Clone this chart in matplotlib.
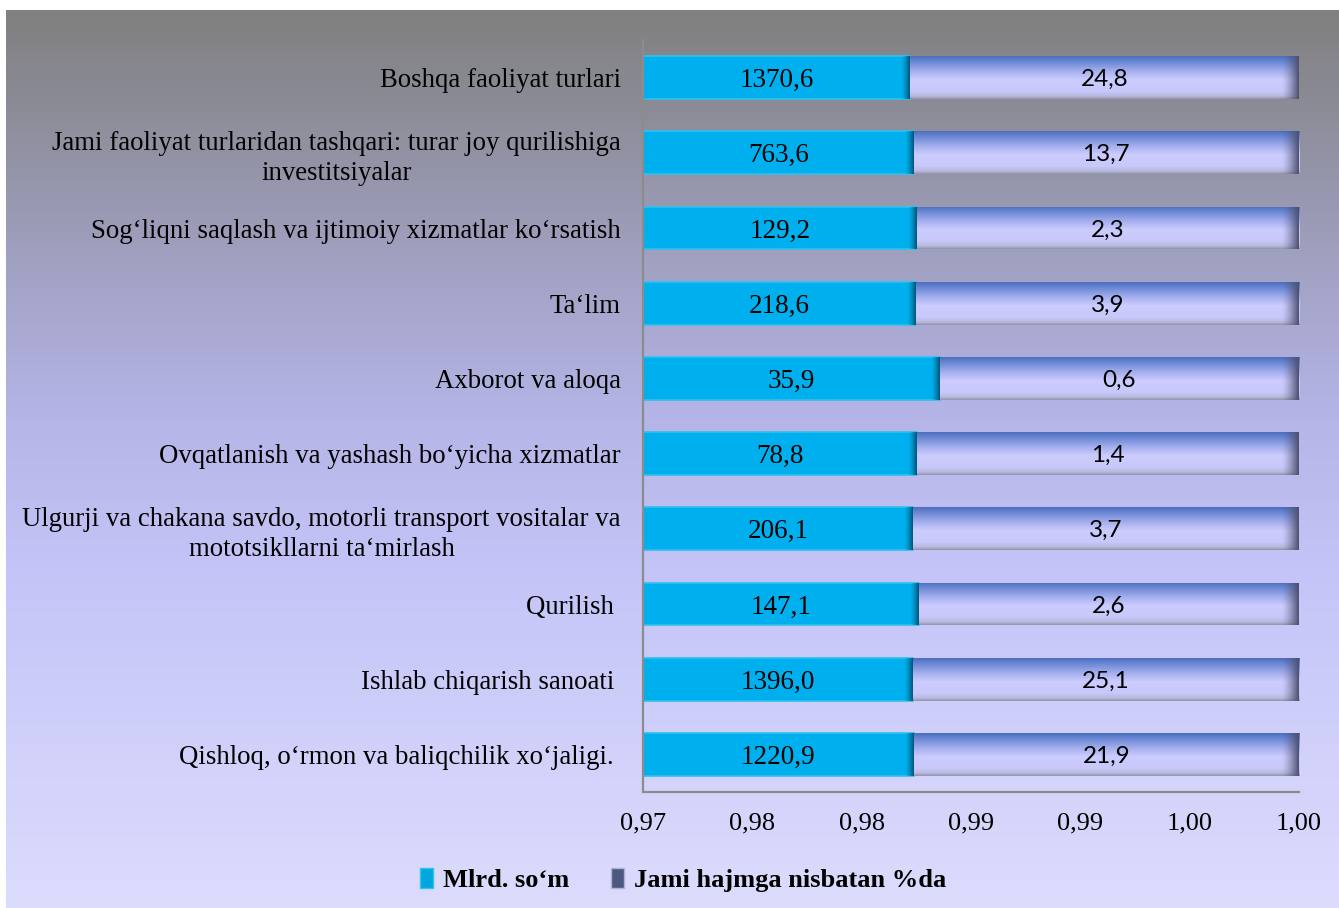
import numpy as np
import matplotlib
matplotlib.use('Agg')
import matplotlib.pyplot as plt
from matplotlib.patches import Patch
from decimal import Decimal, ROUND_HALF_UP

# categories from bottom to top
categories = ['Qishloq, o‘rmon va baliqchilik xo‘jaligi. ',
              'Ishlab chiqarish sanoati ',
              'Qurilish ',
              'Ulgurji va chakana savdo, motorli transport vositalar va\nmototsikllarni ta‘mirlash',
              'Ovqatlanish va yashash bo‘yicha xizmatlar',
              'Axborot va aloqa',
              'Ta‘lim',
              'Sog‘liqni saqlash va ijtimoiy xizmatlar ko‘rsatish',
              'Jami faoliyat turlaridan tashqari: turar joy qurilishiga\ninvestitsiyalar',
              'Boshqa faoliyat turlari']
mlrd = [1220.9, 1396.0, 147.1, 206.1, 78.8, 35.9, 218.6, 129.2, 763.6, 1370.6]
ulush = [21.9, 25.1, 2.6, 3.7, 1.4, 0.6, 3.9, 2.3, 13.7, 24.8]
xticks = [0.97, 0.975, 0.98, 0.985, 0.99, 0.995, 1.00]
legend_names = ['Mlrd. so‘m', 'Jami hajmga nisbatan %da']

W, H = 1339, 908
fig = plt.figure(figsize=(W / 100, H / 100), dpi=100)

# background gradient (grey at top to lavender at bottom)
bg = fig.add_axes([6 / W, 0, 1 - 6 / W, 898 / H], zorder=-10)
stop_y = np.array([10, 110, 255, 410, 570, 850, 908])
stop_c = np.array([[128, 128, 128], [140, 140, 152], [160, 160, 192], [180, 180, 230],
                   [196, 196, 248], [216, 216, 252], [220, 220, 253]]) / 255
yy = np.arange(10, 908)
grad = np.stack([np.interp(yy, stop_y, stop_c[:, k]) for k in range(3)], axis=1)
bg.imshow(grad[:, None, :], aspect='auto', extent=(0, 1, 0, 1))
bg.axis('off')

ax = fig.add_axes([643 / W, 1 - 792 / H, 656 / W, 752 / H])
ax.patch.set_alpha(0)

xmin, xmax = 0.97, 1.0
px = (xmax - xmin) / 656  # data units per pixel
ypos = np.arange(len(categories))
tot = np.array(mlrd) + np.array(ulush)
frac = np.array(mlrd) / tot
h = 0.57

b1 = ax.barh(ypos, frac, height=h, color='#00b0ee', edgecolor='#2ec0f0', linewidth=1.2, zorder=2)
b2 = ax.barh(ypos, 1 - frac, left=frac, height=h, color='#c8c8fa', edgecolor='none', zorder=2)

# shading for the lavender segments
prof_t = np.array([0, 0.12, 0.35, 0.55, 0.82, 0.94, 1.0])
prof_c = np.array([[78, 112, 188], [105, 135, 212], [165, 175, 238], [204, 204, 255],
                   [200, 200, 250], [184, 184, 222], [150, 150, 175]]) / 255
tt = np.linspace(0, 1, 60)
vprof = np.stack([np.interp(tt, prof_t, prof_c[:, k]) for k in range(3)], axis=1)

for i, (p1, p2) in enumerate(zip(b1, b2)):
    y0, y1 = ypos[i] - h / 2, ypos[i] + h / 2
    # lavender vertical gradient
    im = ax.imshow(vprof[:, None, :], aspect='auto', extent=(frac[i], 1.0, y0, y1),
                   zorder=2.1, interpolation='bilinear')
    im.set_clip_path(p2)
    # dark right end of lavender bar
    w = 18 * px
    edge = np.zeros((1, 32, 4))
    edge[..., :3] = np.array([78, 80, 112]) / 255
    edge[..., 3] = np.linspace(0, 1, 32) ** 1.5
    im2 = ax.imshow(edge, aspect='auto', extent=(1.0 - w, 1.0, y0, y1), zorder=2.2,
                    interpolation='bilinear')
    im2.set_clip_path(p2)
    # dark right end of cyan bar
    w = 9 * px
    edge = np.zeros((1, 32, 4))
    edge[..., :3] = np.array([0, 84, 118]) / 255
    edge[..., 3] = np.linspace(0, 1, 32) ** 1.4
    im3 = ax.imshow(edge, aspect='auto', extent=(frac[i] - w, frac[i], y0, y1), zorder=2.2,
                    interpolation='bilinear')
    im3.set_clip_path(p1)

# data labels
for i in range(len(categories)):
    ax.text((xmin + frac[i]) / 2, ypos[i], f'{mlrd[i]:.1f}'.replace('.', ','),
            ha='center', va='center_baseline', fontsize=19.5, family='Liberation Serif', zorder=3)
    ax.text((frac[i] + xmax) / 2, ypos[i], f'{ulush[i]:.1f}'.replace('.', ','),
            ha='center', va='center_baseline', fontsize=17.5, family='Lato', zorder=3)

ax.set_xlim(xmin, xmax)
ax.set_ylim(-0.5, len(categories) - 0.5)


def fmt(v):
    return str(Decimal(str(v)).quantize(Decimal('0.01'), rounding=ROUND_HALF_UP)).replace('.', ',')


ax.set_xticks(xticks, labels=[fmt(v) for v in xticks])
ax.set_yticks(ypos, labels=categories)
ax.tick_params(axis='x', length=0, pad=15, labelsize=19)
ax.tick_params(axis='y', length=0, pad=16, labelsize=19.3)
for t in ax.get_xticklabels() + ax.get_yticklabels():
    t.set_family('Liberation Serif')
for t in ax.get_yticklabels():
    t.set_multialignment('center')
    t.set_linespacing(1.3)

for s in ['top', 'right']:
    ax.spines[s].set_visible(False)
for s in ['left', 'bottom']:
    ax.spines[s].set_color('#8c8c8c')
    ax.spines[s].set_linewidth(1.6)

handles = [Patch(facecolor='#00a6de', edgecolor='#30c4f4', linewidth=1.0),
           Patch(facecolor='#4c5880', edgecolor='#b0b0d8', linewidth=1.0)]
fig.legend(handles, legend_names, loc='center', bbox_to_anchor=(683 / W, 1 - 880 / H),
           ncol=2, frameon=False, handlelength=0.5, handleheight=0.8, handletextpad=0.35,
           columnspacing=1.6, prop={'family': 'Liberation Serif', 'weight': 'bold', 'size': 19})

fig.savefig('out.png', dpi=100)
